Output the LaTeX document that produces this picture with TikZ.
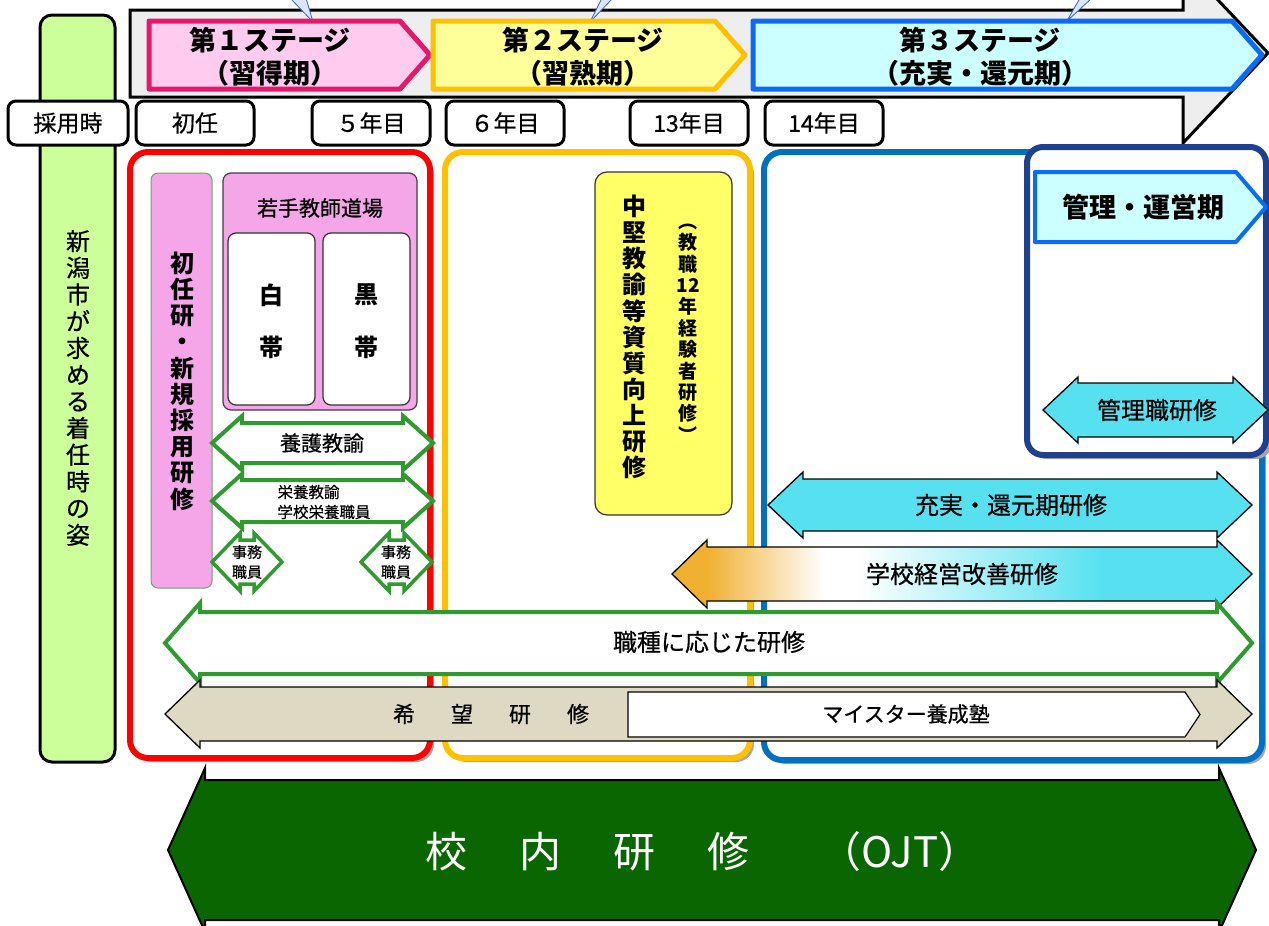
\documentclass[tikz,border=0pt]{standalone}
\usepackage{fontspec}
\setmainfont{Noto Sans CJK JP}
\newfontfamily\medf[FakeBold=0.6]{Noto Sans CJK JP}
\definecolor{tlgray}{HTML}{EEEEEE}
\definecolor{stAfill}{HTML}{FFCCF0}
\definecolor{stAdraw}{HTML}{E5196B}
\definecolor{stBfill}{HTML}{FFFF99}
\definecolor{stBdraw}{HTML}{FFC000}
\definecolor{stCfill}{HTML}{CCFFFF}
\definecolor{stCdraw}{HTML}{0A6CF5}
\definecolor{lgreen}{HTML}{CCFF99}
\definecolor{pred}{HTML}{FF0000}
\definecolor{porange}{HTML}{FFC000}
\definecolor{pblue}{HTML}{0070C0}
\definecolor{pnavy}{HTML}{1F3F8F}
\definecolor{pinkc}{HTML}{F4A6E8}
\definecolor{pinkedge}{HTML}{66A866}
\definecolor{ybox}{HTML}{FFFF66}
\definecolor{garrc}{HTML}{2F9A2F}
\definecolor{kcyan}{HTML}{57E1F0}
\definecolor{kgold}{HTML}{F0B030}
\definecolor{tanc}{HTML}{DDD9C3}
\definecolor{ojtc}{HTML}{0A6600}
\definecolor{tailfill}{HTML}{DCE6FF}
\definecolor{taildraw}{HTML}{2F5FD0}
\pgfdeclarehorizontalshading{goldcyan}{100bp}{color(0bp)=(kgold); color(28bp)=(kgold); color(38bp)=(white); color(41bp)=(white); color(62bp)=(kcyan); color(100bp)=(kcyan)}
% double arrow: style, left tip x, right tip x, centre y, head length, head half height, shaft half height
\newcommand{\dbarr}[7]{\draw[#1] (#2,#4) -- ({#2+#5},{#4-#6}) -- ({#2+#5},{#4-#7}) -- ({#3-#5},{#4-#7}) -- ({#3-#5},{#4-#6}) -- (#3,#4) -- ({#3-#5},{#4+#6}) -- ({#3-#5},{#4+#7}) -- ({#2+#5},{#4+#7}) -- ({#2+#5},{#4+#6}) -- cycle;}
% pentagon: style, left x, tip x, top y, bottom y, head length
\newcommand{\pentshape}[6]{\draw[#1] (#2,#4) -- ({#3-#6},#4) -- (#3,{(#4+#5)/2}) -- ({#3-#6},#5) -- (#2,#5) -- cycle;}
\begin{document}
\begin{tikzpicture}[x=1pt,y=-1pt,line join=round,
  t/.style={inner sep=0pt,align=center,text=black},
  yl/.style={draw=black,line width=3pt,rounded corners=8pt,fill=white,minimum width=118pt,minimum height=44pt,inner sep=0pt,font=\medf\fontsize{23}{26}\selectfont},
  stagetxt/.style={t,font=\fontsize{27}{33}\selectfont\bfseries},
  tailst/.style={fill=tailfill,draw=taildraw,line width=0.8pt},
  panel/.style={line width=6pt,fill=white,rounded corners=18pt},
  shadowst/.style={fill=black!35,rounded corners=18pt},
  garr/.style={draw=garrc,fill=white,line width=4pt,line join=miter},
  carr/.style={draw=black,fill=kcyan,line width=1.3pt,line join=miter},
  tanarr/.style={draw=black,fill=tanc,line width=1.3pt,line join=miter},
  gradarr/.style={draw=black,shade,shading=goldcyan,line width=1.3pt,line join=miter}]
\useasboundingbox (0,0) rectangle (1269,926);
\clip (0,0) rectangle (1269,926);
\fill[white] (0,0) rectangle (1269,926);
% timeline arrow
\draw[line width=3pt,fill=tlgray,line join=miter] (130,10) -- (1183,10) -- (1183,-37) -- (1268,53) -- (1183,143) -- (1183,97) -- (130,97) -- cycle;
% callout tails
\filldraw[tailst] (290,-2) -- (313,22) -- (306,-2) -- cycle;
\filldraw[tailst] (613,-2) -- (590,22) -- (602,-2) -- cycle;
\filldraw[tailst] (1092,-2) -- (1067,21) -- (1080,-2) -- cycle;
% stages
\pentshape{fill=stAfill,draw=stAdraw,line width=5pt}{149}{430}{21}{89}{30}
\pentshape{fill=stBfill,draw=stBdraw,line width=5pt}{433}{745}{21}{89}{30}
\pentshape{fill=stCfill,draw=stCdraw,line width=5pt}{753}{1262}{21}{89}{30}
\node[stagetxt] (s1) at (270,57) {第１ステージ\\（習得期）};
\node[stagetxt] (s2) at (583,57) {第２ステージ\\（習熟期）};
\node[stagetxt] (s3) at (980,57) {第３ステージ\\（充実・還元期）};
% left column
\draw[line width=3pt,fill=lgreen,rounded corners=12pt] (40,15) rectangle (115,762);
\node[t,font=\medf\fontsize{24}{26.7}\selectfont] (col) at (78,388) {新\\潟\\市\\が\\求\\め\\る\\着\\任\\時\\の\\姿};
% year labels
\node[yl,minimum width=120pt] (y0) at (68,123) {採用時};
\node[yl] (y1) at (195,123) {初任};
\node[yl] (y5) at (371,123) {５年目};
\node[yl] (y6) at (505,123) {６年目};
\node[yl] (y13) at (689,123) {13年目};
\node[yl] (y14) at (824,123) {14年目};
% panels
\fill[shadowst] (134,156) rectangle (434,762);
\fill[shadowst] (449,156) rectangle (754,762);
\fill[shadowst] (768,156) rectangle (1266,764);
\draw[panel,draw=pred] (130,152) rectangle (430,758);
\draw[panel,draw=porange] (445,152) rectangle (750,758);
\draw[panel,draw=pblue] (764,152) rectangle (1262,760);
\fill[black!35,rounded corners=16pt] (1031,151) rectangle (1272,459);
\draw[line width=6pt,draw=pnavy,fill=white,rounded corners=16pt] (1027,147) rectangle (1266,455);
% stage 1 contents
\draw[fill=pinkc,draw=pinkedge,line width=1pt,rounded corners=7pt] (151,173) rectangle (212,588);
\node[t,font=\fontsize{24}{26.2}\selectfont\bfseries] (shonin) at (182,381) {初\\任\\研\\・\\新\\規\\採\\用\\研\\修};
\draw[fill=pinkc,draw=black!75,line width=1.2pt,rounded corners=8pt] (223,173) rectangle (417,410);
\node[t,font=\medf\fontsize{21}{24}\selectfont] (waka) at (320,208) {若手教師道場};
\draw[fill=white,draw=black!80,line width=1.2pt,rounded corners=8pt] (228,233) rectangle (315,405);
\draw[fill=white,draw=black!80,line width=1.2pt,rounded corners=8pt] (323,233) rectangle (410,405);
\node[t,font=\fontsize{24}{26}\selectfont\bfseries] (shiroA) at (271,295) {白};
\node[t,font=\fontsize{24}{26}\selectfont\bfseries] (shiroB) at (271,347) {帯};
\node[t,font=\fontsize{24}{26}\selectfont\bfseries] (kuroA) at (366,295) {黒};
\node[t,font=\fontsize{24}{26}\selectfont\bfseries] (kuroB) at (366,347) {帯};
\dbarr{garr}{212}{433}{443}{30}{27}{20}
\node[t,font=\medf\fontsize{21}{24}\selectfont] (yogo) at (322,443) {養護教諭};
\dbarr{garr}{212}{433}{501}{30}{27}{21}
\node[t,align=left,font=\medf\fontsize{15.5}{20}\selectfont] (eiyo) at (324,502) {栄養教諭\\学校栄養職員};
\dbarr{garr,line width=3.5pt}{212}{282}{562}{28}{29}{22}
\dbarr{garr,line width=3.5pt}{361}{432}{562}{28}{29}{22}
\node[t,font=\medf\fontsize{15}{20}\selectfont] (jimuA) at (247,562) {事務\\職員};
\node[t,font=\medf\fontsize{15}{20}\selectfont] (jimuB) at (396,562) {事務\\職員};
% stage 2 contents
\draw[fill=ybox,draw=black!80,line width=1.2pt,rounded corners=12pt] (595,172) rectangle (732,515);
\node[t,font=\fontsize{24}{26.1}\selectfont\bfseries] (chuken) at (634,337) {中\\堅\\教\\諭\\等\\資\\質\\向\\上\\研\\修};
\node[t,font=\fontsize{19}{21.4}\selectfont\bfseries] (kyoshoku) at (688,333) {︵\\教\\職\\12\\年\\経\\験\\者\\研\\修\\︶};
% stage 3 contents
\pentshape{fill=stCfill,draw=stCdraw,line width=4pt}{1035}{1266}{172}{242}{30}
\node[t,font=\fontsize{27}{30}\selectfont\bfseries] (kanri) at (1143,207) {管理・運営期};
\dbarr{carr}{1043}{1268}{410}{35}{33}{27}
\node[t,font=\medf\fontsize{24}{26}\selectfont] (kanrishoku) at (1157,410) {管理職研修};
\dbarr{carr}{768}{1252}{505}{35}{33}{26}
\node[t,font=\medf\fontsize{24}{26}\selectfont] (juujitsu) at (1011,505) {充実・還元期研修};
\dbarr{gradarr}{672}{1252}{574}{35}{34}{27}
\node[t,font=\medf\fontsize{24}{26}\selectfont] (keiei) at (962,574) {学校経営改善研修};
% full width arrows
\dbarr{garr}{165}{1252}{643}{35}{40}{31}
\node[t,font=\medf\fontsize{24}{26}\selectfont] (shokushu) at (709,642) {職種に応じた研修};
\dbarr{tanarr}{165}{1252}{714}{35}{34}{27}
\node[t,font=\medf\fontsize{22}{26}\selectfont] (kibou) at (491,714) {希\hspace{36pt}望\hspace{36pt}研\hspace{36pt}修};
\pentshape{fill=white,draw=black,line width=1.2pt,line join=miter}{628}{1200}{692}{737}{15}
\node[t,font=\medf\fontsize{21}{24}\selectfont] (meister) at (906,714) {マイスター養成塾};
% OJT arrow
\dbarr{draw=black,fill=ojtc,line width=2pt,line join=miter}{168}{1256}{850}{37}{82}{70}
\node[t,text=white,font=\fontsize{42}{46}\selectfont] (ojt) at (703,852) {校\hspace{52pt}内\hspace{52pt}研\hspace{52pt}修\hspace{70pt}（OJT）};
\end{tikzpicture}
\end{document}
